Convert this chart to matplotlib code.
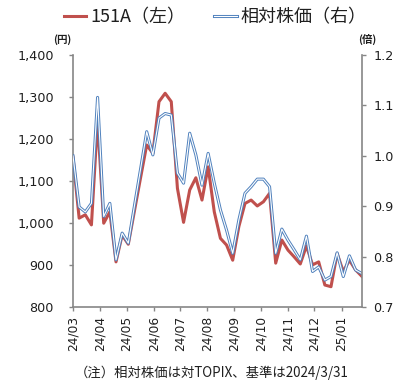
import pandas as pd
import matplotlib
matplotlib.use("Agg")
import matplotlib.pyplot as plt
import matplotlib.dates as mdates
from matplotlib.ticker import FuncFormatter
from matplotlib.legend_handler import HandlerTuple
from matplotlib.font_manager import FontProperties

# Weekly observations, Mar 2024 - Jan 2025
dates = pd.date_range("2024-03-01", periods=48, freq="7D")

# 151A share price (JPY, left axis)
price = [1157, 1012, 1020, 996, 1245, 1000, 1027, 908, 972, 950,
         1029, 1108, 1186, 1166, 1289, 1309, 1289, 1083, 1002, 1079,
         1108, 1055, 1134, 1027, 964, 948, 912, 992, 1047, 1055,
         1041, 1051, 1071, 905, 960, 936, 920, 903, 946, 901,
         908, 853, 849, 928, 885, 912, 889, 874]

# Price relative to TOPIX (x, right axis), base = 1.0
relative = [1.000, 0.899, 0.889, 0.906, 1.116, 0.880, 0.906, 0.794, 0.847, 0.827,
            0.901, 0.974, 1.048, 1.002, 1.075, 1.084, 1.081, 0.966, 0.946, 1.045,
            1.002, 0.942, 1.005, 0.946, 0.893, 0.853, 0.807, 0.873, 0.926, 0.939,
            0.954, 0.954, 0.939, 0.807, 0.855, 0.833, 0.814, 0.794, 0.841, 0.771,
            0.780, 0.754, 0.761, 0.808, 0.761, 0.802, 0.774, 0.767]

left_ticks = [800, 900, 1000, 1100, 1200, 1300, 1400]
right_ticks = [0.7, 0.8, 0.9, 1.0, 1.1, 1.2]
legend_labels = ["151A（左）", "相対株価（右）"]
footnote = "（注）相対株価は対TOPIX、基準は2024/3/31"

RED = "#C0504D"
BLUE = "#4F81BD"
GRAY = "#868686"
TXT = "#1f1f1f"
JP = ["Noto Sans CJK JP", "DejaVu Sans"]

plt.rcParams["font.family"] = ["DejaVu Sans", "Noto Sans CJK JP"]

W, H = 401, 383
fig = plt.figure(figsize=(W / 100, H / 100), dpi=100)
x0, x1, ytop, ybot = 73, 361.7, 55, 307.3
ax = fig.add_axes([x0 / W, 1 - ybot / H, (x1 - x0) / W, (ybot - ytop) / H])
ax2 = ax.twinx()

line_r, = ax.plot(dates, price, color=RED, lw=2.2)
line_b, = ax2.plot(dates, relative, color=BLUE, lw=2.2)
line_w, = ax2.plot(dates, relative, color="white", lw=0.8)

ax.set_xlim(dates[0], dates[-1])
ax.set_ylim(800, 1400)
ax.set_yticks(left_ticks)
ax.yaxis.set_major_formatter(FuncFormatter(lambda v, p: f"{v:,.0f}"))
ax2.set_ylim(0.7, 1.2)
ax2.set_yticks(right_ticks)
ax2.yaxis.set_major_formatter(FuncFormatter(lambda v, p: f"{v:.1f}"))

ax.xaxis.set_major_locator(mdates.MonthLocator())
ax.xaxis.set_major_formatter(mdates.DateFormatter("%y/%m"))

for a in (ax, ax2):
    for s in a.spines.values():
        s.set_visible(False)
        s.set_color(GRAY)
        s.set_linewidth(1.2)
ax.spines["left"].set_visible(True)
ax.spines["bottom"].set_visible(True)
ax2.spines["right"].set_visible(True)

ax.tick_params(axis="y", direction="out", length=3.2, width=1, color=GRAY,
               pad=10.5, labelsize=9.2, labelcolor=TXT)
ax2.tick_params(axis="y", direction="out", length=3.2, width=1, color=GRAY,
                pad=5, labelsize=9.2, labelcolor=TXT)
ax.tick_params(axis="x", direction="out", length=3.2, width=1, color=GRAY,
               pad=3, labelsize=8.8, labelcolor=TXT, labelrotation=90)

fig.legend([line_r, (line_b, line_w)], legend_labels,
           loc="center", bbox_to_anchor=(215 / W, 1 - 17 / H), ncol=2,
           frameon=False, prop=FontProperties(family=JP, size=13),
           labelcolor=TXT, handlelength=1.25, handletextpad=0.2,
           columnspacing=1.6, borderaxespad=0, borderpad=0,
           handler_map={tuple: HandlerTuple(ndivide=1, pad=0)})

fig.text(62.5 / W, 1 - 39.5 / H, "(円)", ha="center", va="center",
         fontsize=7.5, fontweight="bold", family=JP, color=TXT)
fig.text(367 / W, 1 - 39.5 / H, "(倍)", ha="center", va="center",
         fontsize=7.5, fontweight="bold", family=JP, color=TXT)
fig.text(75 / W, 1 - 373 / H, footnote, ha="left", va="center",
         fontsize=9.6, family=JP, color=TXT)

fig.savefig("out.png", dpi=100)
